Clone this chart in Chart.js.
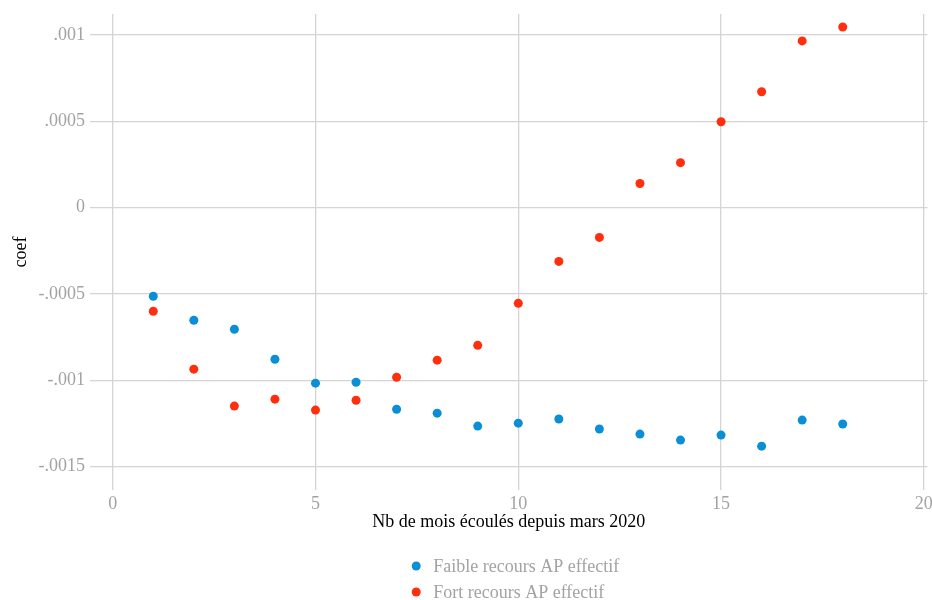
<!DOCTYPE html>
<html>
<head>
<meta charset="utf-8">
<script src="https://cdn.jsdelivr.net/npm/chart.js@4/dist/chart.umd.min.js"></script>
<style>
  html, body { margin: 0; padding: 0; background: #fff; }
  #wrap { width: 932px; height: 600px; }
</style>
</head>
<body>
<div id="wrap"><canvas id="c" width="932" height="600"></canvas></div>
<script>
// Months elapsed since March 2020
const months = [1, 2, 3, 4, 5, 6, 7, 8, 9, 10, 11, 12, 13, 14, 15, 16, 17, 18];

// Estimated coefficients by group
const faibleCoef = [-0.000514, -0.000653, -0.000705, -0.000879, -0.001017, -0.001012,
  -0.001168, -0.001191, -0.001266, -0.001249, -0.001225, -0.001283,
  -0.001312, -0.001347, -0.001318, -0.001382, -0.001231, -0.001254];
const fortCoef = [-0.000601, -0.000936, -0.001150, -0.001110, -0.001173, -0.001116,
  -0.000983, -0.000884, -0.000798, -0.000555, -0.000312, -0.000173,
  0.000139, 0.000260, 0.000497, 0.000671, 0.000965, 0.001046];

const seriesNames = ['Faible recours AP effectif', 'Fort recours AP effectif'];

// Axis ticks
const xTickValues = [0, 5, 10, 15, 20];
const yTickValues = [-0.0015, -0.001, -0.0005, 0, 0.0005, 0.001];
const yTickLabels = ['-.0015', '-.001', '-.0005', '0', '.0005', '.001'];

const FONT = "'Liberation Serif', 'Times New Roman', serif";
const TICK_COLOR = '#a3a3a3';
const GRID_COLOR = '#d4d4d4';
const FONT_SIZE = 18;

const toPoints = ys => months.map((m, i) => ({ x: m, y: ys[i] }));

// Stacked legend centred under the plot region, one series per row
const stackedLegend = {
  id: 'stackedLegend',
  afterDraw(chart) {
    const { ctx, chartArea } = chart;
    const rowY = [566, 592];
    ctx.save();
    ctx.font = FONT_SIZE + 'px ' + FONT;
    ctx.textBaseline = 'middle';
    ctx.textAlign = 'left';
    const widths = chart.data.datasets.map(d => ctx.measureText(d.label).width);
    const blockW = 17 + Math.max(...widths);
    const x0 = (chartArea.left + chartArea.right) / 2 - blockW / 2 + 9;
    chart.data.datasets.forEach((d, i) => {
      ctx.fillStyle = d.backgroundColor;
      ctx.beginPath();
      ctx.arc(x0, rowY[i], 4.5, 0, Math.PI * 2);
      ctx.fill();
      ctx.fillStyle = TICK_COLOR;
      ctx.fillText(d.label, x0 + 17, rowY[i] + 1);
    });
    ctx.restore();
  }
};

new Chart(document.getElementById('c'), {
  type: 'scatter',
  data: {
    datasets: [
      {
        label: seriesNames[0],
        data: toPoints(faibleCoef),
        backgroundColor: '#0a8fd7',
        borderColor: '#0a8fd7',
        pointRadius: 4.5,
        pointHoverRadius: 4.5,
        borderWidth: 0
      },
      {
        label: seriesNames[1],
        data: toPoints(fortCoef),
        backgroundColor: '#ff2e0c',
        borderColor: '#ff2e0c',
        pointRadius: 4.5,
        pointHoverRadius: 4.5,
        borderWidth: 0
      }
    ]
  },
  plugins: [stackedLegend],
  options: {
    responsive: false,
    animation: false,
    layout: { padding: { top: 14, right: 0, bottom: 65, left: 0 } },
    plugins: {
      tooltip: { enabled: false },
      legend: { display: false }
    },
    scales: {
      x: {
        type: 'linear',
        min: -0.56,
        max: 20.09,
        afterBuildTicks: s => { s.ticks = xTickValues.map(v => ({ value: v })); },
        afterFit: s => { s.height = 45; s.paddingLeft = 0; s.paddingRight = 0; },
        border: { display: false },
        grid: { color: GRID_COLOR, lineWidth: 1.3, drawTicks: false },
        ticks: {
          color: TICK_COLOR,
          padding: 3,
          maxRotation: 0,
          font: { family: FONT, size: FONT_SIZE }
        },
        title: {
          display: true,
          text: 'Nb de mois écoulés depuis mars 2020',
          color: '#000',
          padding: { top: 2, bottom: 2 },
          font: { family: FONT, size: FONT_SIZE }
        }
      },
      y: {
        type: 'linear',
        min: -0.001636,
        max: 0.001121,
        afterBuildTicks: s => { s.ticks = yTickValues.map(v => ({ value: v })); },
        afterFit: s => { s.width = 90; s.paddingTop = 0; s.paddingBottom = 0; },
        border: { display: false },
        grid: { color: GRID_COLOR, lineWidth: 1.3, drawTicks: false },
        ticks: {
          color: TICK_COLOR,
          padding: 5,
          font: { family: FONT, size: FONT_SIZE },
          callback: v => {
            const i = yTickValues.findIndex(t => Math.abs(t - v) < 1e-9);
            return i >= 0 ? yTickLabels[i] : '';
          }
        },
        title: {
          display: true,
          text: 'coef',
          color: '#000',
          padding: { top: 10, bottom: 4 },
          font: { family: FONT, size: FONT_SIZE }
        }
      }
    }
  }
});
</script>
</body>
</html>
